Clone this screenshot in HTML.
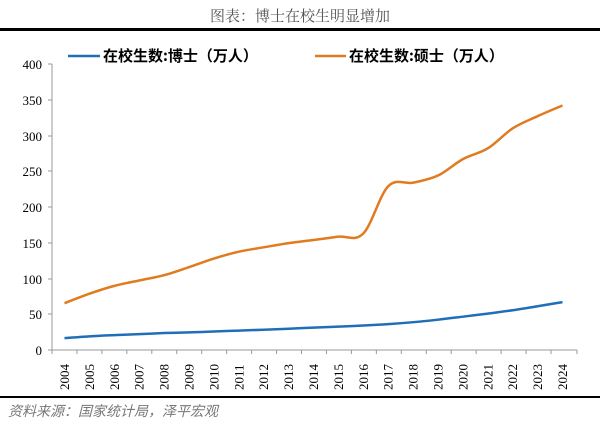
<!DOCTYPE html>
<html><head><meta charset="utf-8"><style>
body{margin:0;background:#fff;width:600px;height:423px;overflow:hidden}
</style></head><body>
<svg width="600" height="423" xmlns="http://www.w3.org/2000/svg" font-family="'Liberation Serif','Noto Serif CJK SC',serif">
<text x="300" y="21" text-anchor="middle" font-size="15" fill="#555">图表：博士在校生明显增加</text>
<line x1="0" y1="29.5" x2="600" y2="29.5" stroke="#000" stroke-width="3"/>
<line x1="0" y1="397" x2="600" y2="397" stroke="#000" stroke-width="2"/>
<text x="8" y="416" font-size="14" fill="#777" font-style="italic" font-family="'Noto Sans CJK SC',sans-serif">资料来源：国家统计局，泽平宏观</text>
<g stroke="#999" stroke-width="1">
<line x1="52" y1="64" x2="52" y2="350"/>
<line x1="52" y1="350" x2="577" y2="350"/>
<line x1="48" y1="64" x2="52" y2="64"/><line x1="48" y1="100" x2="52" y2="100"/><line x1="48" y1="136" x2="52" y2="136"/><line x1="48" y1="171" x2="52" y2="171"/><line x1="48" y1="207" x2="52" y2="207"/><line x1="48" y1="243" x2="52" y2="243"/><line x1="48" y1="279" x2="52" y2="279"/><line x1="48" y1="314" x2="52" y2="314"/><line x1="48" y1="350" x2="52" y2="350"/>
</g>
<g font-size="13" fill="#000" text-anchor="end">
<text x="42" y="69">400</text><text x="42" y="105">350</text><text x="42" y="141">300</text><text x="42" y="176">250</text><text x="42" y="212">200</text><text x="42" y="248">150</text><text x="42" y="284">100</text><text x="42" y="319">50</text><text x="42" y="355">0</text>
</g>
<g id="yrs" font-size="13" fill="#000"></g>
<g id="tk" stroke="#999"></g>
<path id="m" fill="none" stroke="#E07B20" stroke-width="2.5" stroke-linejoin="round"/>
<path id="p" fill="none" stroke="#1F6FB8" stroke-width="2.5" stroke-linejoin="round"/>
<line x1="68" y1="56" x2="100" y2="56" stroke="#1F6FB8" stroke-width="2.5"/>
<text x="103" y="61" font-size="15" font-weight="bold" font-family="'Noto Sans CJK SC',sans-serif">在校生数:博士（万人）</text>
<line x1="315" y1="56" x2="346" y2="56" stroke="#E07B20" stroke-width="2.5"/>
<text x="349" y="61" font-size="15" font-weight="bold" font-family="'Noto Sans CJK SC',sans-serif">在校生数:硕士（万人）</text>
</svg>
<script>
var p=[16.6,19.1,20.8,22.2,23.7,24.6,25.9,27.1,28.4,29.8,31.3,32.7,34.2,36.2,38.9,42.4,46.6,50.9,55.6,61.2,67];
var m=[65.4,78.7,89.7,97.2,104.6,115.9,127.9,137.5,143.6,149.5,153.9,158.5,163,229,234,244,267,282,310,327,342];
function X(i){return 64.5+i*24.9}function Y(v){return 350-v*0.715}
function path(a){var pts=a.map((v,i)=>[X(i),Y(v)]);var d='M'+pts[0][0]+','+pts[0][1];
for(var i=0;i<pts.length-1;i++){var p0=pts[i-1]||pts[i],p1=pts[i],p2=pts[i+1],p3=pts[i+2]||p2;var k=0.17;
d+=' C'+(p1[0]+(p2[0]-p0[0])*k)+','+(p1[1]+(p2[1]-p0[1])*k)+' '+(p2[0]-(p3[0]-p1[0])*k)+','+(p2[1]-(p3[1]-p1[1])*k)+' '+p2[0]+','+p2[1];}
return d;}
document.getElementById('p').setAttribute('d',path(p));
document.getElementById('m').setAttribute('d',path(m));
var ns='http://www.w3.org/2000/svg',g=document.getElementById('yrs'),t=document.getElementById('tk');
for(var i=0;i<21;i++){var e=document.createElementNS(ns,'text');var x=X(i)+4.5;e.setAttribute('transform','translate('+x+',390) rotate(-90)');e.textContent=2004+i;g.appendChild(e);
var l=document.createElementNS(ns,'line');var tx=52+i*24.95;l.setAttribute('x1',tx);l.setAttribute('x2',tx);l.setAttribute('y1',350);l.setAttribute('y2',354);t.appendChild(l);}
var l=document.createElementNS(ns,'line');l.setAttribute('x1',577);l.setAttribute('x2',577);l.setAttribute('y1',350);l.setAttribute('y2',354);t.appendChild(l);
</script>
</body></html>
